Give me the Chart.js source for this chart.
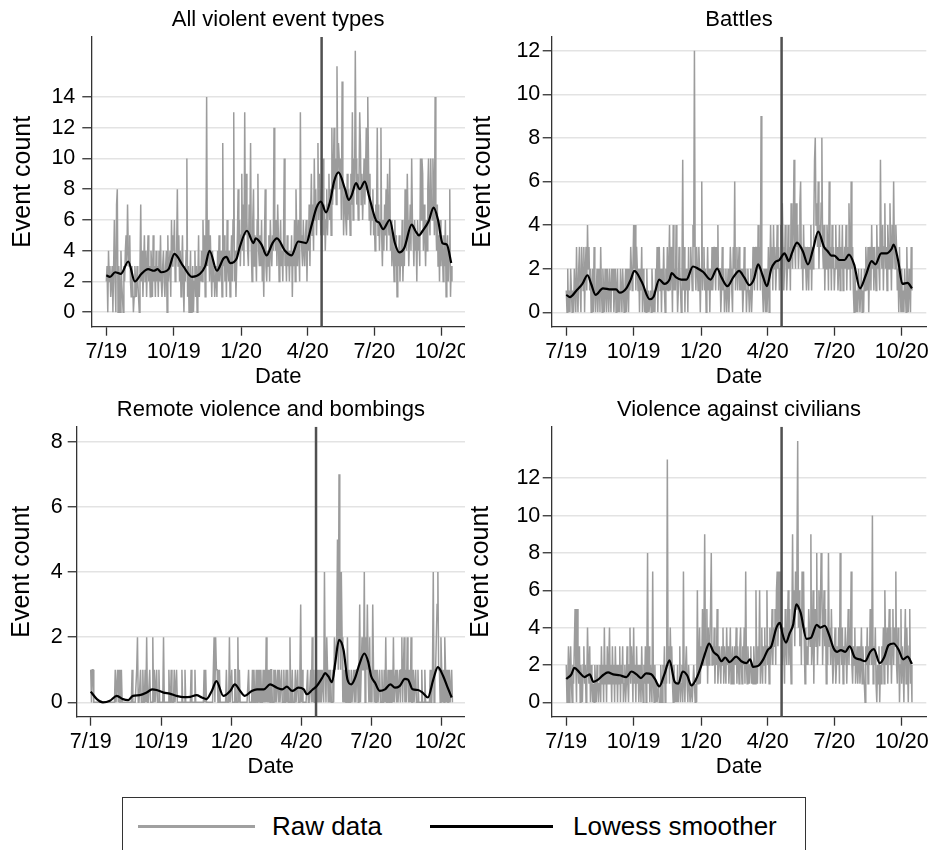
<!DOCTYPE html>
<html>
<head>
<meta charset="utf-8">
<script src="https://cdn.jsdelivr.net/npm/chart.js@4.4.1/dist/chart.umd.min.js"></script>
<style>
  body { margin: 0; background: #fff; }
  #page { position: relative; width: 933px; height: 850px; overflow: hidden; background: #fff;
          font-family: "Liberation Sans", Arial, Helvetica, sans-serif; color: #000; }
  #page canvas { position: absolute; background: #fff; }
  .lg-box { position: absolute; left: 122px; top: 797px; width: 684px; height: 80px;
            border: 1.5px solid #333; box-sizing: border-box; }
  .lg-line { position: absolute; }
  .lg-text { position: absolute; font-size: 26px; line-height: 30px; white-space: nowrap; }
</style>
</head>
<body>
<div id="page">
  <canvas id="c1"></canvas>
  <canvas id="c2"></canvas>
  <canvas id="c3"></canvas>
  <canvas id="c4"></canvas>
  <div class="lg-box"></div>
  <div class="lg-line" style="left:138px;top:825px;width:117px;height:3px;background:#a0a0a0"></div>
  <div class="lg-text" style="left:272px;top:811px">Raw data</div>
  <div class="lg-line" style="left:430px;top:825px;width:123px;height:2.5px;background:#000"></div>
  <div class="lg-text" style="left:573px;top:811px">Lowess smoother</div>
</div>
<script>
// day 0 = 1 Jul 2019, one value per day up to 15 Oct 2020
const eventDay = 294; // 20 Apr 2020
const tickDays = [0, 92, 184, 275, 366, 458];
const tickLabels = ['7/19', '10/19', '1/20', '4/20', '7/20', '10/20'];

const allViolent = [
  2,3,0,4,2,3,1,2,3,0, 3,6,2,0,7,8,0,3,2,0, 4,2,1,0,3,2,4,5,3,7, 4,3,5,2,1,3,2,0,1,3,
  2,1,3,2,1,0,3,7,2,4, 1,3,5,2,4,1,3,5,2,3, 1,4,3,1,5,2,3,1,4,2, 3,1,4,2,5,2,1,3,4,2,
  1,3,4,0,5,2,3,4,1,6, 3,5,4,6,2,3,4,8,3,5, 2,4,1,3,5,2,0,3,2,4, 10,1,3,0,2,4,0,1,3,0,
  2,4,1,3,0,2,5,1,3,2, 4,2,6,3,5,1,4,14,3,6, 4,2,5,3,1,4,2,3,1,2, 3,1,4,2,5,2,3,4,1,11,
  3,5,2,4,1,6,3,2,4,1, 3,5,2,6,13,2,4,1,3,5, 8,4,6,3,5,9,4,7,3,13, 5,9,6,4,3,7,5,11,4,2,
  6,8,3,5,4,2,6,9,4,3, 5,3,6,2,4,1,5,8,3,2, 4,3,5,2,6,4,3,5,4,12, 5,4,6,3,7,5,2,4,6,3,
  4,2,5,10,3,4,2,5,3,4, 2,4,3,5,1,4,3,6,2,8, 5,3,6,4,2,13,5,4,3,6, 4,3,5,6,2,5,4,7,3,6,
  9,5,7,4,10,6,8,5,7,11, 6,9,7,5,8,6,10,5,7,4, 6,8,5,7,9,6,8,5,12,7, 9,12,8,10,7,16,9,11,10,8,
  10,6,15,9,5,7,8,6,5,9, 6,8,7,5,9,7,13,6,10,8, 17,10,7,9,6,8,13,11,7,9, 6,8,10,7,9,12,8,14,10,6,
  9,5,7,6,8,5,6,4,7,6, 12,5,7,4,6,12,5,3,6,4, 7,5,8,4,9,6,5,10,4,6, 3,5,4,2,6,3,5,1,4,3,
  5,2,4,3,6,2,4,3,8,5, 4,9,6,3,5,7,4,10,6,5, 3,6,4,5,2,6,4,5,3,10, 6,10,9,4,7,5,3,6,4,8,
  10,6,5,10,7,6,10,8,5,14, 6,4,7,3,5,2,6,3,5,4, 2,5,3,6,1,4,5,2,4,8, 1,3,2
];
const allLowessDays = [0,5,12,20,30,39,48,57,65,70,75,85,93,105,117,128,135,141,151,160,164,169,178,182,192,
  201,204,212,219,227,233,244,253,262,273,280,287,293,300,306,311,317,326,331,335,341,346,353,359,368,373,378,
  387,394,400,407,417,422,427,432,440,447,453,459,465,471];
const allLowess = [2.4,2.3,2.6,2.5,3.3,2.0,2.5,2.8,2.7,2.8,2.6,2.8,3.8,3.0,2.3,2.5,3.0,4.0,2.7,3.5,3.6,3.2,3.5,4.2,5.3,
  4.5,4.8,4.4,3.7,4.5,4.8,4.0,3.7,4.6,4.5,5.6,6.8,7.2,6.5,7.3,8.5,9.1,8.0,7.3,7.6,8.4,8.0,8.5,7.5,6.0,5.8,5.4,
  6.0,4.5,3.9,4.2,5.7,5.3,5.0,5.3,5.9,6.8,6.0,4.5,4.4,3.2];

const battles = [
  1,0,2,0,1,0,2,1,0,1, 0,2,1,0,3,1,0,2,3,1, 0,3,2,1,3,0,2,3,1,4, 2,3,1,2,0,1,2,0,3,1,
  0,1,2,0,1,2,0,3,1,0, 2,1,0,2,1,0,2,1,0,2, 1,0,2,1,2,0,1,2,0,1, 2,0,1,0,2,1,0,2,1,0,
  1,2,0,2,1,0,2,1,3,2, 1,2,4,2,4,1,3,2,1,2, 0,2,1,3,0,2,1,0,1,0, 2,0,1,0,0,1,0,2,1,0,
  1,0,2,1,3,0,2,3,1,2, 0,2,1,3,1,0,2,1,3,1, 2,4,1,3,2,0,4,1,2,1, 4,2,0,1,3,2,1,0,2,7,
  1,3,0,2,1,2,0,3,1,2, 3,2,1,4,3,12,2,1,3,2, 1,3,2,0,2,6,1,2,3,1, 2,0,1,3,1,2,0,2,1,3,
  1,2,3,2,1,3,2,4,1,2, 2,0,1,3,1,2,0,1,2,0, 1,2,0,1,3,2,1,0,3,2, 6,1,2,3,1,2,3,1,2,1,
  2,0,1,3,1,2,0,1,2,1, 0,1,2,0,1,3,2,1,3,2, 3,1,4,2,3,1,9,2,1,0, 2,1,0,2,0,1,3,0,2,4,
  2,3,1,4,2,3,1,2,4,2, 3,1,2,4,2,5,3,1,2,4, 3,1,2,4,2,3,1,5,3,2, 4,7,3,2,5,3,4,2,3,5,
  6,2,3,1,4,2,3,2,1,3, 2,1,3,2,4,1,3,2,4,7, 8,4,5,3,6,2,4,3,5,8, 3,2,4,1,3,2,4,3,1,6,
  2,3,1,4,2,3,1,2,4,2, 3,1,2,4,1,3,2,4,1,2, 3,2,4,1,3,2,5,3,1,6, 2,3,1,0,2,1,0,1,0,2,
  1,0,1,2,0,1,0,2,1,3, 2,1,3,0,2,3,1,4,2,3, 1,3,2,1,4,2,3,2,1,7, 3,2,4,1,3,5,2,3,1,4,
  3,2,5,3,1,4,2,6,3,2, 4,3,1,2,0,3,1,0,2,0, 1,0,2,1,0,3,1,0,2,1, 0,3,1
];
const battlesLowessDays = [0,5,14,22,29,34,40,50,61,68,73,82,88,93,103,114,119,127,134,141,144,150,157,164,173,
  180,187,197,206,212,220,228,236,243,250,256,262,268,274,280,285,291,298,304,308,315,323,330,337,344,352,357,
  362,366,373,380,386,393,401,409,417,422,430,437,444,447,453,459,466,472];
const battlesLowess = [0.8,0.7,1.0,1.3,1.7,1.3,0.8,1.1,1.05,1.05,0.9,1.1,1.5,1.9,1.4,0.6,0.7,1.5,1.3,1.5,1.8,1.6,1.5,1.5,2.1,
  2.0,1.85,1.5,2.0,1.6,1.2,1.6,1.9,1.6,1.25,1.5,2.2,1.7,1.2,2.0,2.3,2.4,2.7,2.35,2.7,3.2,2.8,2.2,2.9,3.7,3.0,2.8,
  2.6,2.6,2.4,2.4,2.65,2.2,1.1,1.7,2.35,2.2,2.7,2.7,2.9,3.1,2.4,1.3,1.35,1.1];

const remoteViolence = [
  1,0,1,1,0,0,0,0,0,0, 0,0,0,0,0,0,0,0,0,0, 0,0,0,0,0,0,0,0,0,0, 0,0,1,0,0,1,0,1,0,0,
  1,0,0,0,0,0,0,0,0,0, 0,0,0,0,1,0,0,0,0,0, 1,2,0,0,0,1,0,0,1,0, 0,1,0,2,0,0,0,1,0,0,
  0,2,0,1,0,0,1,0,0,1, 0,0,0,0,0,2,0,0,0,0, 0,0,1,0,0,1,0,0,0,1, 0,0,1,0,0,0,0,0,0,1,
  0,0,0,1,0,0,0,0,0,0, 0,1,0,0,0,0,1,0,0,0, 0,0,0,0,0,0,0,0,1,0, 1,0,0,0,0,0,0,0,0,0,
  1,2,0,2,1,1,0,0,1,0, 0,0,0,0,0,0,0,1,0,0, 0,2,0,0,1,0,0,0,1,1, 0,0,2,0,1,0,0,0,0,0,
  0,0,0,0,0,0,1,0,0,0, 0,1,0,1,0,0,1,0,1,0, 1,0,1,0,0,1,0,1,0,2, 0,1,0,1,0,1,1,0,0,1,
  0,1,0,0,1,0,1,0,0,1, 0,0,1,0,0,1,0,1,0,0, 2,0,0,1,0,0,0,1,0,0, 1,0,0,1,3,0,1,0,0,0,
  0,0,0,1,0,0,0,1,0,2, 0,1,0,0,1,0,1,0,1,0, 1,0,1,1,0,4,1,0,2,1, 0,1,0,1,0,0,1,0,2,1,
  1,2,5,1,7,2,1,4,2,0, 1,0,1,0,0,2,0,1,0,0, 1,0,0,1,0,1,0,1,1,0, 1,3,0,1,2,1,1,4,0,2,
  1,3,1,0,2,0,1,0,3,1, 0,1,0,0,1,0,0,1,0,0, 1,0,0,1,0,2,0,0,1,0, 0,1,0,1,0,2,0,0,1,0,
  1,0,0,1,0,1,2,0,1,2, 0,1,0,2,1,0,1,0,2,0, 0,1,0,0,1,0,0,1,0,0, 0,0,1,0,0,0,1,0,0,0,
  0,0,0,1,0,0,1,4,0,1, 1,2,3,4,1,1,0,2,1,0, 1,0,2,1,0,1,0,0,1,0, 0,1,0
];
const remoteLowessDays = [0,8,16,25,34,42,49,55,64,73,80,86,95,103,112,121,130,138,145,151,158,164,173,182,188,
  195,201,210,217,226,234,243,250,256,263,271,278,282,289,295,302,306,310,315,319,324,330,335,340,345,351,357,
  362,366,371,377,384,391,397,403,410,414,420,427,433,440,447,453,460,465,471];
const remoteLowess = [0.33,0.1,0.0,0.05,0.2,0.1,0.07,0.2,0.22,0.3,0.4,0.38,0.3,0.27,0.2,0.16,0.17,0.22,0.15,0.1,0.35,0.65,0.2,0.35,0.55,
  0.35,0.2,0.35,0.4,0.4,0.55,0.45,0.4,0.48,0.35,0.45,0.4,0.25,0.38,0.5,0.75,0.9,0.8,0.62,1.2,1.92,1.6,0.7,0.55,0.75,1.2,1.5,
  1.25,0.8,0.6,0.35,0.4,0.55,0.45,0.5,0.72,0.7,0.4,0.38,0.3,0.15,0.7,1.08,0.8,0.5,0.15];

const civilians = [
  2,0,1,3,0,2,3,1,0,2, 1,3,5,2,0,5,2,1,3,0, 2,1,0,2,3,1,2,0,1,4, 2,1,3,0,2,1,0,1,0,2,
  1,0,2,1,0,1,2,0,3,1, 2,0,4,1,2,0,3,1,2,4, 1,2,0,3,1,2,0,3,1,2, 0,2,1,3,0,2,1,3,0,1,
  2,0,1,3,1,0,2,4,1,3, 2,0,4,1,2,0,3,1,2,0, 1,2,0,3,1,0,2,1,3,0, 2,8,1,3,0,2,1,0,7,1,
  0,2,0,1,0,0,1,0,0,2, 1,0,2,1,3,0,2,1,13,2, 3,1,4,2,3,1,0,2,1,0, 1,0,2,0,1,3,0,1,2,0,
  7,1,0,2,3,1,0,2,1,0, 0,1,0,0,2,1,0,1,0,6, 1,2,4,1,3,2,5,2,4,9, 3,2,5,1,4,2,3,5,8,2,
  3,2,4,1,3,2,5,1,2,3, 2,1,3,2,4,1,3,2,1,4, 2,3,1,2,4,1,2,3,1,2, 3,2,4,1,3,2,1,3,4,2,
  1,3,2,4,1,7,2,1,3,2, 1,2,3,1,2,1,3,2,1,6, 2,1,3,2,6,1,2,4,1,3, 2,4,1,3,6,2,3,1,4,2,
  3,5,2,4,3,5,2,6,7,3, 5,7,4,7,3,2,4,3,1,5, 3,2,4,6,2,5,3,1,4,9, 4,6,3,7,5,8,14,4,6,3,
  5,2,7,4,7,3,1,4,2,3, 2,5,4,3,9,2,3,6,1,4, 5,3,8,2,4,6,3,5,8,7, 2,4,6,3,5,1,4,2,8,3,
  4,2,5,3,1,2,3,4,1,2, 3,2,4,1,8,3,2,4,1,3, 2,4,3,1,3,5,2,4,3,7, 2,1,3,2,4,1,2,3,1,2,
  3,1,2,4,1,3,2,1,0,3, 2,4,1,3,2,5,3,2,10,1, 3,2,4,1,0,2,1,3,0,2, 1,3,2,4,1,6,3,2,4,1,
  3,5,2,4,1,3,5,2,4,3, 7,2,1,4,3,0,2,5,1,3, 2,0,3,5,1,4,2,0,3,5, 1,2,0
];
const civiliansLowessDays = [0,7,11,18,25,32,37,43,50,57,64,73,82,89,96,102,109,116,121,127,134,141,148,153,159,
  165,171,178,183,191,195,201,207,212,217,223,232,239,246,251,255,262,269,275,280,287,292,295,300,305,310,314,
  320,328,334,342,347,353,359,365,370,375,381,387,394,401,408,415,420,428,434,440,447,454,460,466,472];
const civiliansLowess = [1.25,1.5,1.85,1.6,1.35,1.5,1.1,1.2,1.45,1.6,1.5,1.45,1.35,1.65,1.5,1.3,1.55,1.5,1.25,0.85,1.5,2.25,1.1,1.0,1.65,
  1.45,0.9,1.3,1.8,2.8,3.15,2.7,2.5,2.2,2.4,2.15,2.45,2.2,2.1,2.3,1.9,1.95,2.3,2.8,3.0,4.0,4.25,3.7,3.2,3.7,4.2,5.25,
  4.8,3.4,3.45,4.15,4.0,4.1,3.6,2.9,2.7,2.8,2.7,3.0,2.4,2.3,2.2,2.7,2.85,2.1,2.4,3.05,3.15,2.8,2.3,2.45,2.05];

Chart.defaults.font.family = '"Liberation Sans", Arial, Helvetica, sans-serif';
Chart.defaults.color = '#000';

const panelTitle = {
  id: 'panelTitle',
  afterDraw(chart, args, opts) {
    const { ctx, chartArea } = chart;
    ctx.save();
    ctx.font = '22px "Liberation Sans", Arial, sans-serif';
    ctx.fillStyle = '#000';
    ctx.textAlign = 'center';
    ctx.textBaseline = 'middle';
    ctx.fillText(opts.text, (chartArea.left + chartArea.right) / 2, chartArea.top - 17);
    ctx.restore();
  }
};

function makePanel(p) {
  const cv = document.getElementById(p.id);
  cv.width = p.w; cv.height = p.h;
  cv.style.left = p.x + 'px'; cv.style.top = p.y + 'px';
  const a = p.area;
  new Chart(cv, {
    type: 'line',
    data: {
      datasets: [
        { data: p.lowDays.map((d, i) => ({ x: d, y: p.low[i] })), borderColor: '#000', borderWidth: 2.2,
          cubicInterpolationMode: 'monotone', pointRadius: 0, order: 0 },
        { data: [{ x: eventDay, y: p.yMin }, { x: eventDay, y: p.yMax }], borderColor: '#505050', borderWidth: 2.5,
          pointRadius: 0, order: 1 },
        { data: p.raw.map((v, i) => ({ x: i, y: v })), borderColor: '#9c9c9c', borderWidth: 1.5,
          pointRadius: 0, tension: 0, order: 2 }
      ]
    },
    options: {
      responsive: false,
      animation: false,
      layout: { padding: { left: 0, top: a.top, right: p.w - a.right, bottom: 0 } },
      plugins: { legend: { display: false }, tooltip: { enabled: false }, panelTitle: { text: p.title } },
      scales: {
        x: {
          type: 'linear', min: p.xMin, max: p.xMax,
          afterFit: s => { s.height = p.h - a.bottom; s.paddingLeft = 0; s.paddingRight = 0; },
          afterBuildTicks: s => { s.ticks = tickDays.map(v => ({ value: v })); },
          ticks: { autoSkip: false, maxRotation: 0, padding: 3, font: { size: 21.5 },
                   callback: v => tickLabels[tickDays.indexOf(v)] },
          grid: { drawOnChartArea: false, tickLength: 9, tickColor: '#333', tickWidth: 1.3 },
          border: { display: true, color: '#333', width: 1.3 },
          title: { display: true, text: 'Date', font: { size: 22 }, padding: { top: 0, bottom: p.datePad } }
        },
        y: {
          min: p.yMin, max: p.yMax,
          afterFit: s => { s.width = a.left; s.paddingTop = 0; s.paddingBottom = 0; },
          afterBuildTicks: s => { s.ticks = p.yTicks.map(v => ({ value: v })); },
          ticks: { padding: p.yTickPad, font: { size: 21.5 } },
          grid: { color: '#e3e3e3', lineWidth: 1.5, tickLength: 9, tickColor: '#333', tickWidth: 1.3 },
          border: { display: true, color: '#333', width: 1.3 },
          title: { display: true, text: 'Event count', font: { size: 25 }, padding: { top: p.yTitlePad, bottom: 0 } }
        }
      }
    },
    plugins: [panelTitle]
  });
}

makePanel({ id: 'c1', x: 0, y: 0, w: 470, h: 392, area: { left: 91.3, top: 37, right: 465, bottom: 326.7 },
  title: 'All violent event types', raw: allViolent, lowDays: allLowessDays, low: allLowess,
  xMin: -20.5, xMax: 489.8, yMin: -0.94, yMax: 17.9, yTicks: [0, 2, 4, 6, 8, 10, 12, 14],
  yTickPad: 7, yTitlePad: 8, datePad: 1.8 });
makePanel({ id: 'c2', x: 465, y: 0, w: 468, h: 392, area: { left: 86.7, top: 36.7, right: 461.3, bottom: 326.7 },
  title: 'Battles', raw: battles, lowDays: battlesLowessDays, low: battlesLowess,
  xMin: -19.9, xMax: 491.6, yMin: -0.66, yMax: 12.64, yTicks: [0, 2, 4, 6, 8, 10, 12],
  yTickPad: 2.4, yTitlePad: 3, datePad: 1.8 });
makePanel({ id: 'c3', x: 0, y: 392, w: 470, h: 392, area: { left: 76.7, top: 34.7, right: 465, bottom: 324.7 },
  title: 'Remote violence and bombings', raw: remoteViolence, lowDays: remoteLowessDays, low: remoteLowess,
  xMin: -18.3, xMax: 488.4, yMin: -0.44, yMax: 8.46, yTicks: [0, 2, 4, 6, 8],
  yTickPad: 5, yTitlePad: 7.5, datePad: 3.8 });
makePanel({ id: 'c4', x: 465, y: 392, w: 468, h: 392, area: { left: 86.7, top: 34.7, right: 461.3, bottom: 324.7 },
  title: 'Violence against civilians', raw: civilians, lowDays: civiliansLowessDays, low: civiliansLowess,
  xMin: -19.9, xMax: 491.6, yMin: -0.77, yMax: 14.76, yTicks: [0, 2, 4, 6, 8, 10, 12],
  yTickPad: 2.4, yTitlePad: 1, datePad: 4 });
</script>
</body>
</html>
